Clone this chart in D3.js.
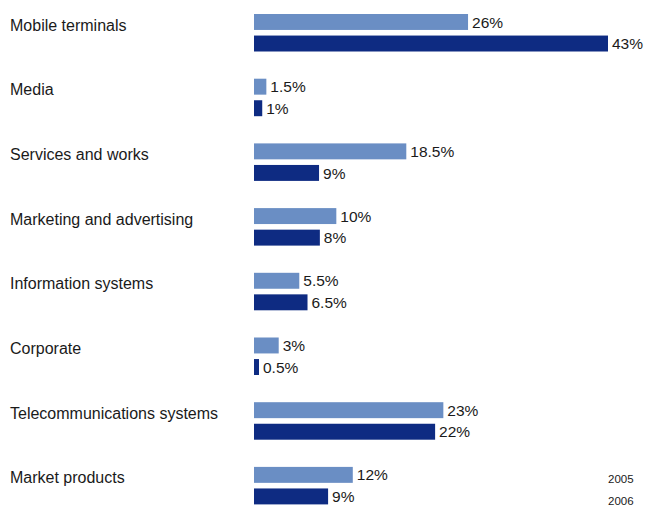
<!DOCTYPE html>
<html>
<head>
<meta charset="utf-8">
<script src="https://cdn.jsdelivr.net/npm/d3@7"></script>
<style>
  body { margin: 0; background: #fff; }
  svg text { font-family: "Liberation Sans", Arial, sans-serif; fill: #1a1a1a; }
</style>
</head>
<body>
<svg id="canvas"></svg>
<script>
let categories = ["Mobile terminals", "Media", "Services and works", "Marketing and advertising",
    "Information systems", "Corporate", "Telecommunications systems", "Market products"]
let years = ["2005", "2006"]
let values2005 = [26, 1.5, 18.5, 10, 5.5, 3, 23, 12]
// services 2006 bar is drawn shorter than its 9% label in the original
let values2006 = [43, 1, 7.9, 8, 6.5, 0.5, 22, 9]
let labels2005 = ["26%", "1.5%", "18.5%", "10%", "5.5%", "3%", "23%", "12%"]
let labels2006 = ["43%", "1%", "9%", "8%", "6.5%", "0.5%", "22%", "9%"]

let width = 656
let height = 507
let colors = {"2005": "#6a8ec4", "2006": "#0e2b82"}

let svg = d3.select("#canvas")
svg.attr("width", width)
svg.attr("height", height)

let rows = []
categories.forEach((c, i) => {
    rows.push({cat: c, year: "2005", value: values2005[i], label: labels2005[i]})
    rows.push({cat: c, year: "2006", value: values2006[i], label: labels2006[i]})
})

let xScale = d3.scaleLinear()
    .domain([0, 43])
    .range([254, 608])

let yScale = d3.scaleBand()
    .domain(categories)
    .range([14, 14 + 64.7 * categories.length])

let yInner = d3.scaleBand()
    .domain(years)
    .range([0, 37.5])
    .paddingInner(0.26)

let barW = d => Math.max(5, xScale(d.value) - xScale(0))

let row = svg.selectAll("g.row")
    .data(categories)
    .enter()
    .append("g")
    .attr("class", "row")
    .attr("transform", d => "translate(0," + yScale(d) + ")")

row.append("text")
    .attr("x", 10)
    .attr("y", 16.5)
    .attr("font-size", 16)
    .attr("textLength", null)
    .text(d => d)

svg.selectAll("rect.bar")
    .data(rows)
    .enter()
    .append("rect")
    .attr("class", "bar")
    .attr("x", xScale(0))
    .attr("y", d => yScale(d.cat) + yInner(d.year))
    .attr("width", barW)
    .attr("height", yInner.bandwidth())
    .attr("fill", d => colors[d.year])

svg.selectAll("text.val")
    .data(rows)
    .enter()
    .append("text")
    .attr("class", "val")
    .attr("x", d => xScale(0) + barW(d) + 4)
    .attr("y", d => yScale(d.cat) + yInner(d.year) + yInner.bandwidth() / 2)
    .attr("dy", "0.36em")
    .attr("font-size", 15.5)
    .text(d => d.label)

// legend, text only
svg.selectAll("text.legend")
    .data(years)
    .enter()
    .append("text")
    .attr("class", "legend")
    .attr("x", 608)
    .attr("y", (d, i) => 483 + i * 22)
    .attr("font-size", 11.5)
    .text(d => d)
</script>
</body>
</html>
